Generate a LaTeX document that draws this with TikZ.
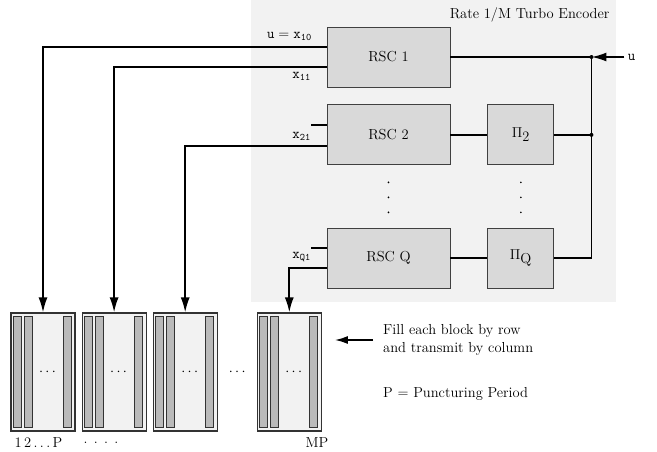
\documentclass[tikz,border=0pt]{standalone}
\usepackage{tikz}
\usetikzlibrary{positioning, arrows.meta, calc}

\begin{document}
\begin{tikzpicture}[
  x=1pt, y=-1pt,
  font=\fontsize{14.5}{17.5}\selectfont,
  box/.style={draw=black!75, line width=0.9pt, fill=black!15, minimum height=60pt},
  rsc/.style={box, minimum width=123pt},
  perm/.style={box, minimum width=66pt},
  conn/.style={line width=1.8pt},
  arr/.style={conn, -{Latex[length=15pt,width=9pt]}},
  blk/.style={draw=black!80, line width=1.1pt, fill=black!5, inner sep=0pt,
    minimum width=64pt, minimum height=118pt},
  bar/.style={draw=black!80, line width=0.8pt, fill=black!27, inner sep=0pt,
    minimum width=8pt, minimum height=111pt},
  lbl/.style={anchor=east, inner sep=1pt},
  note/.style={anchor=west, align=left, inner xsep=10pt},
]
  \useasboundingbox (0,0) rectangle (657,451);
  \fill[black!5] (251,0) rectangle (616,302);
  \node[anchor=east] (title) at (613,15) {Rate 1/M Turbo Encoder};

  % Encoder
  \node[rsc] (rsc1) at (388.5,57) {RSC 1};
  \node[rsc, below=17pt of rsc1] (rsc2) {RSC 2};
  \node[rsc] (rscq) at (388.5,258) {RSC Q};
  \node[perm, right=37pt of rsc2] (p2) {$\Pi_{\textstyle 2}$};
  \node[perm, right=37pt of rscq] (pq) {$\Pi_{\textstyle\mathrm{Q}}$};
  \foreach \n in {rsc2,p2}
    \foreach \d in {17,32,47}
      \fill ([yshift=-\d pt]\n.south) circle (0.9pt);

  \coordinate (j1) at ([xshift=141pt]rsc1.east);
  \coordinate (j2) at (j1 |- p2.east);
  \node[anchor=west] (uin) at ([xshift=33pt]j1) {\texttt{u}};
  \draw[conn] (rsc1) -- (j1);
  \draw[arr] (uin.west) -- (j1);
  \draw[conn] (rsc2) -- (p2);
  \draw[conn] (rscq) -- (pq);
  \draw[conn] (p2) -- (j2);
  \draw[conn] (pq) -| (j1);
  \fill (j1) circle (2pt);
  \fill (j2) circle (2pt);

  % Outputs
  \coordinate (in10) at ([yshift=10pt]rsc1.west);
  \coordinate (in11) at ([yshift=-10pt]rsc1.west);
  \coordinate (in20) at ([yshift=10pt]rsc2.west);
  \coordinate (in21) at ([yshift=-11pt]rsc2.west);
  \coordinate (inq0) at ([yshift=10pt]rscq.west);
  \coordinate (inq1) at ([yshift=-10pt]rscq.west);
  \coordinate (s2) at ([xshift=-16pt]in20);
  \coordinate (sq) at ([xshift=-16pt]inq0);
  \draw[conn] (in20) -- (s2);
  \draw[conn] (inq0) -- (sq);
  \node[lbl] (l10) at (313,36) {$\mathtt{u} = \mathtt{x}_{\mathtt{10}}$};
  \node[lbl] (l11) at (312,76) {$\mathtt{x}_{\mathtt{11}}$};
  \node[lbl] (l21) at (312,136) {$\mathtt{x}_{\mathtt{21}}$};
  \node[lbl] (lq1) at (312,257) {$\mathtt{x}_{\mathtt{Q1}}$};

  % Blocks
  \node[blk] (blk1) at (43,372) {};
  \node[blk, right=6pt of blk1] (blk2) {};
  \node[blk, right=6pt of blk2] (blk3) {};
  \node[blk, right=39pt of blk3] (blk4) {};
  \foreach \b in {blk1,blk2,blk3,blk4} {
    \foreach \o in {7,18,57}
      \node[bar] (\b-\o) at ([xshift=\o pt]\b.west) {};
    \node (\b-dots) at ([xshift=37pt]\b.west) {$\cdots$};
  }
  \node (gap) at ($(blk3.east)!0.5!(blk4.west)$) {$\cdots$};

  \draw[arr] (in10) -| (blk1.north);
  \draw[arr] (in11) -| (blk2.north);
  \draw[arr] (in21) -| (blk3.north);
  \draw[arr] (inq1) -| (blk4.north);

  \node[anchor=west] (lab1) at (11,443) {1\,2\,.\,.\,.\,P};
  \node[anchor=west] (lab2) at (80,443) {. . . .};
  \node (lab3) at (317,443) {MP};

  \node[note] (fill) at (373,340) {Fill each block by row\\and transmit by column};
  \coordinate (fillpt) at ([xshift=13pt]blk4.east |- fill.west);
  \draw[conn, -{Latex[length=13pt,width=8pt]}] (fill.west) -- (fillpt);
  \node[note] (pp) at (373,394) {P $=$ Puncturing Period};
\end{tikzpicture}
\end{document}
